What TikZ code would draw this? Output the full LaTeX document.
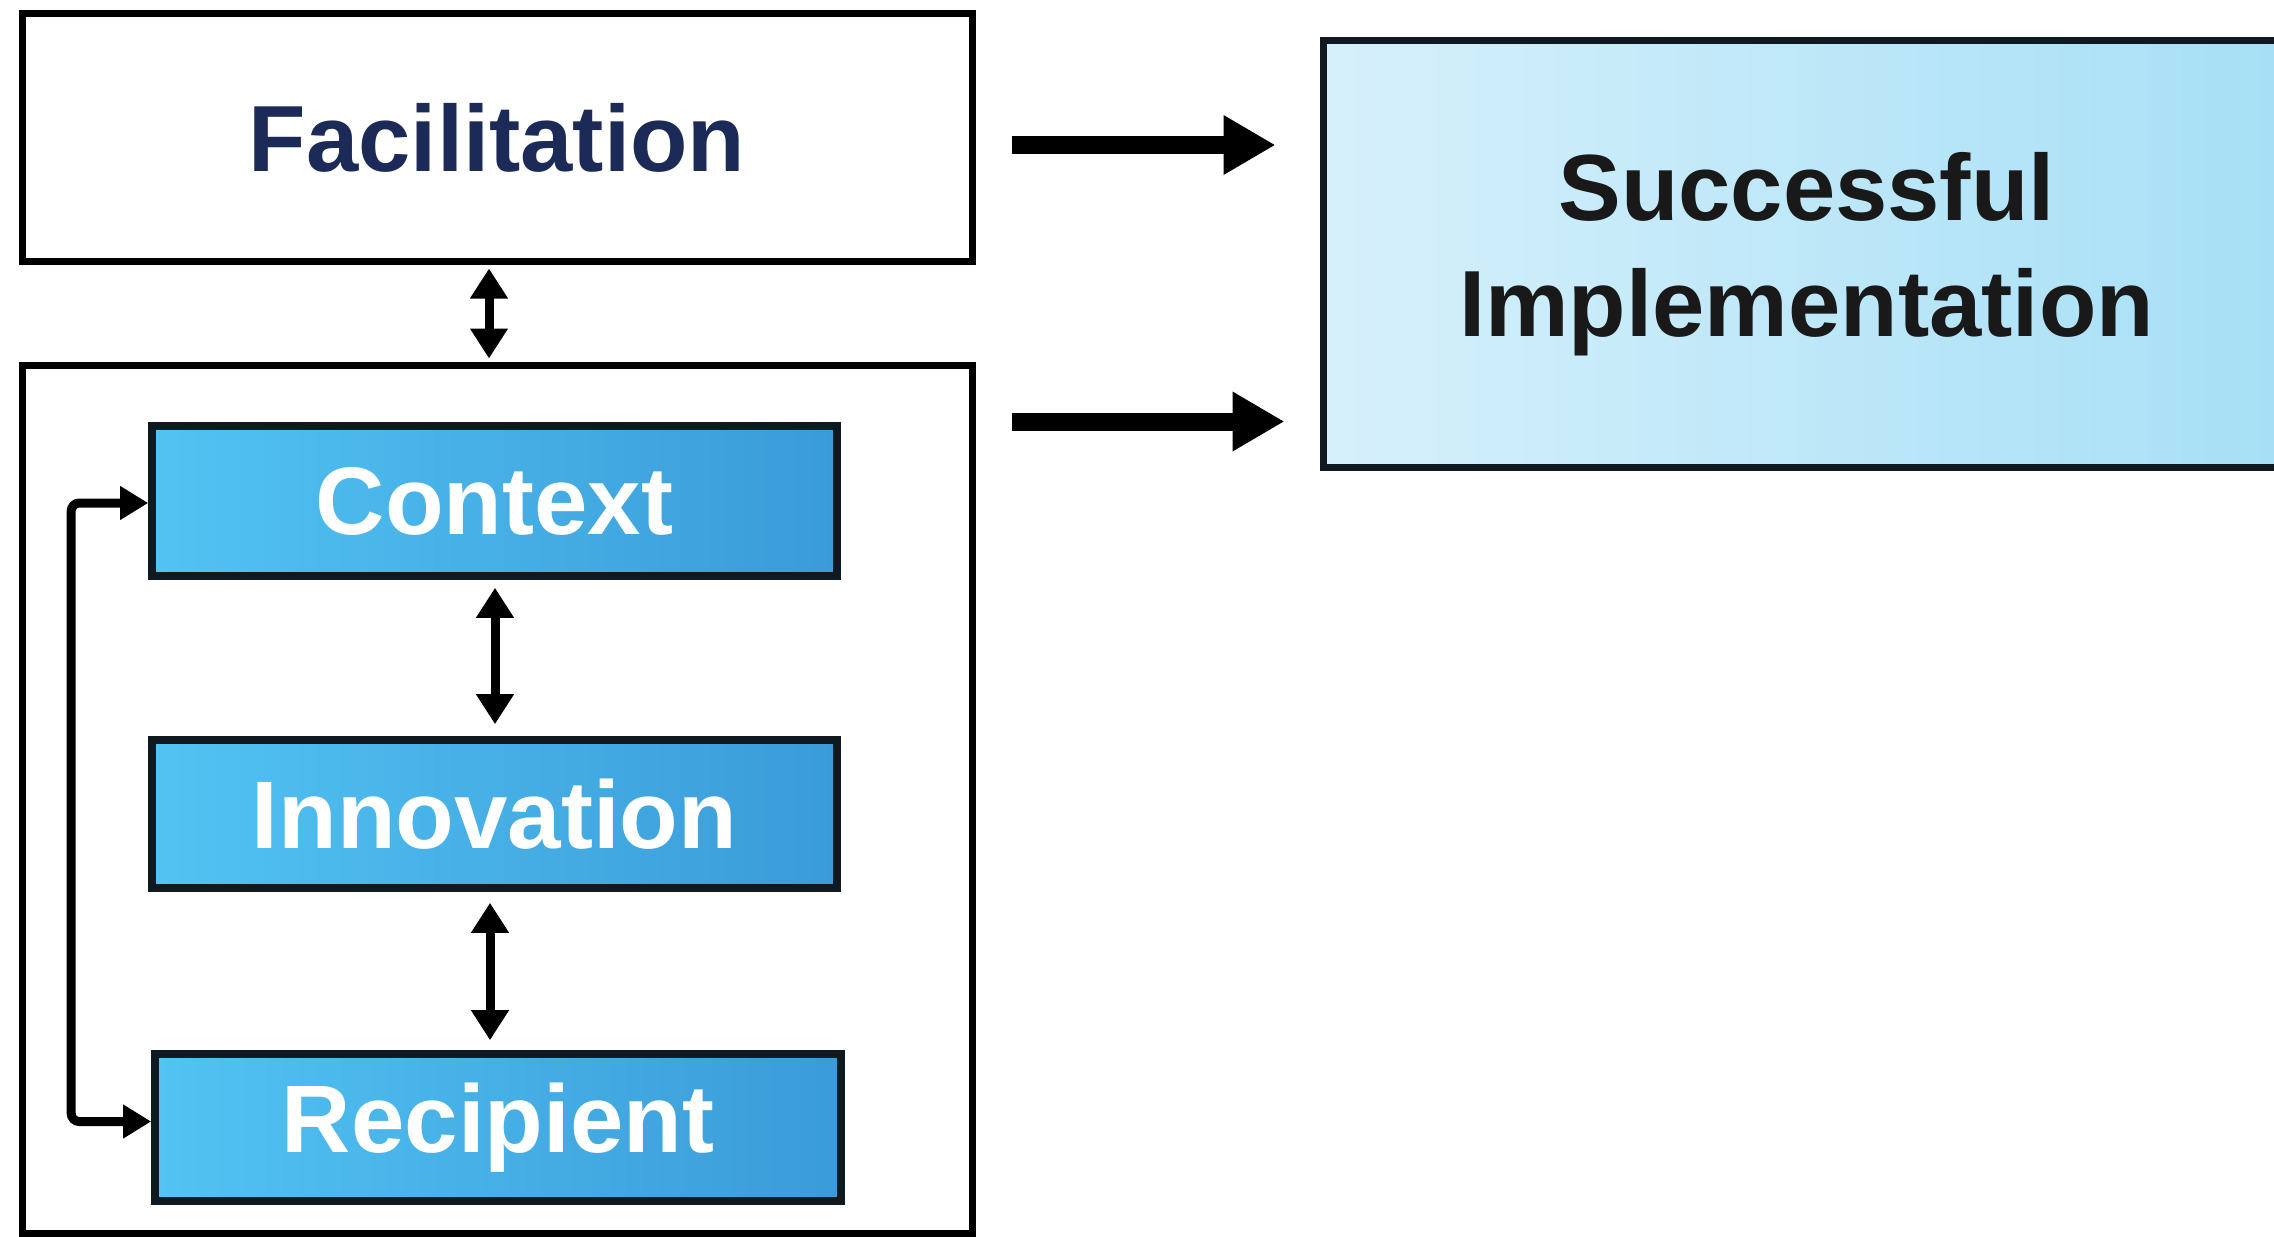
\documentclass[tikz,border=0pt]{standalone}
\usepackage{fontspec}
\setmainfont{Liberation Sans}
\usetikzlibrary{arrows.meta,calc}
\definecolor{navy}{HTML}{1B2A56}
\definecolor{boxline}{HTML}{101820}
\definecolor{blueL}{HTML}{52C3F3}
\definecolor{blueR}{HTML}{3A9BD8}
\definecolor{paleL}{HTML}{D6F0FB}
\definecolor{paleR}{HTML}{A6DFF6}
\tikzset{
  plainbox/.style={draw=black,line width=3.5pt,fill=white,inner sep=0pt},
  bluebox/.style={draw=boxline,line width=3.8pt,left color=blueL,right color=blueR,inner sep=0pt,
     text=white,font=\fontsize{48}{56}\selectfont\bfseries},
  outbox/.style={draw=boxline,line width=3.5pt,left color=paleL,right color=paleR,inner sep=0pt,
     align=center,font=\fontsize{47}{58}\selectfont\bfseries,text=black!90},
  bigarrow/.style={line width=9pt,-{Triangle[length=26pt,width=28pt]}},
  dblarrow/.style={line width=4.5pt,{Triangle[length=15pt,width=18pt]}-{Triangle[length=15pt,width=18pt]}},
  looparrow/.style={line width=4.5pt,{Triangle[length=14pt,width=16pt]}-{Triangle[length=14pt,width=16pt]},rounded corners=4pt}
}
\begin{document}
\begin{tikzpicture}[x=0.5pt,y=-0.5pt]
\useasboundingbox[fill=white] (0,0) rectangle (2274,1236);
\node[plainbox,minimum width=475pt,minimum height=123.5pt,font=\fontsize{47}{56}\selectfont\bfseries,text=navy] (fac) at (497,137.5) {Facilitation};
\node[plainbox,minimum width=475pt,minimum height=434pt] (outer) at (497,799) {};
\node[bluebox,minimum width=342.5pt,minimum height=75pt] (ctx) at (494.5,501) {Context};
\node[bluebox,minimum width=342.5pt,minimum height=74pt] (inn) at (494.5,814) {Innovation};
\node[bluebox,minimum width=343pt,minimum height=73.5pt] (rec) at (498,1127.5) {Recipient};
\node[outbox,minimum width=483.5pt,minimum height=213pt] (succ) at (1806.5,254) {Successful\\Implementation};
\draw[bigarrow] ($(fac.east)+(36,7.5)$) -- ($(succ.west |- fac.east)+(-44,7.5)$);
\draw[bigarrow] ($(outer.north east)+(36,60)$) -- ($(succ.west |- outer.north east)+(-35,60)$);
\draw[dblarrow] ($(fac.south)+(-8,4)$) -- ($(outer.north)+(-8,-3)$);
\draw[dblarrow] ($(ctx.south)+(0.5,8)$) -- ($(inn.north)+(0.5,-12)$);
\draw[dblarrow] ($(inn.south)+(-4.5,11)$) -- ($(inn.south |- rec.north)+(-4.5,-10)$);
\draw[looparrow] ($(ctx.west)+(0,2)$) -- ++(-77,0) |- ($(rec.west)+(0,-6)$);
\end{tikzpicture}
\end{document}
